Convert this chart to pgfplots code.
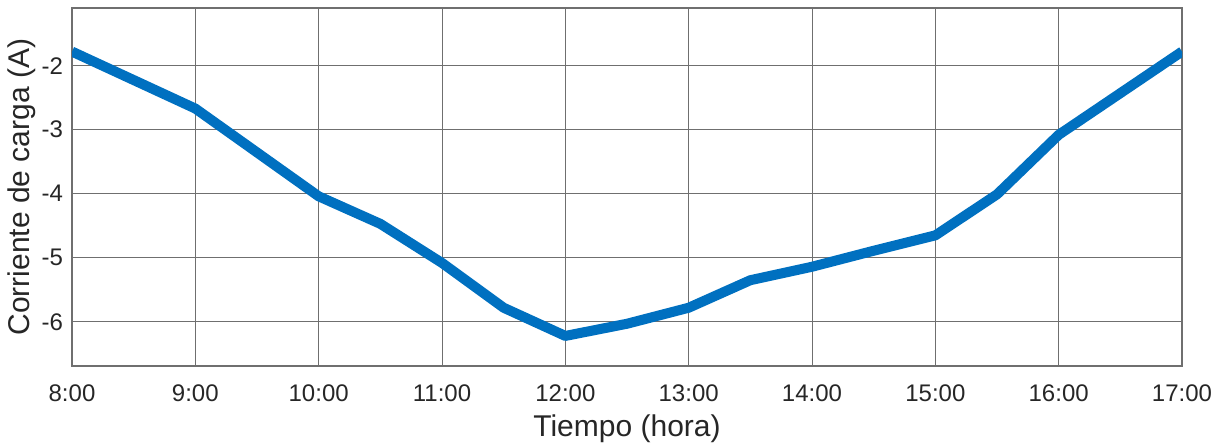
\documentclass[border=0pt]{standalone}
\usepackage{pgfplots}
\pgfplotsset{compat=1.18}
\usepackage{fontspec}
\setmainfont{Liberation Sans}
\definecolor{lineblue}{HTML}{0070C0}
\definecolor{gridgray}{HTML}{6F6F6F}
\begin{document}
\begin{tikzpicture}
\begin{axis}[
  name=ax,
  scale only axis,
  width=555pt, height=179pt,
  xmin=8, xmax=17, ymin=-6.69, ymax=-1.1,
  xtick={8,...,17},
  xticklabels={8:00,9:00,10:00,11:00,12:00,13:00,14:00,15:00,16:00,17:00},
  ytick={-6,-5,-4,-3,-2},
  yticklabels={-6,-5,-4,-3,-2},
  major tick length=0pt,
  grid=major,
  major grid style={gridgray, line width=0.5pt},
  axis line style={gridgray, line width=0.6pt},
  tick label style={font=\fontsize{12}{14}\selectfont, text=black!85},
  xticklabel style={yshift=-6pt},
  yticklabel style={xshift=-1pt},
  label style={font=\fontsize{15}{18}\selectfont, text=black!85},
  xlabel={Tiempo (hora)},
  ylabel={Corriente de carga (A)},
  xlabel style={yshift=0.5pt},
  ylabel style={yshift=-4pt},
]
\addplot[lineblue, line width=5pt, line join=round] coordinates {
(8,-1.78) (9,-2.67) (10,-4.04) (10.5,-4.47) (11,-5.08) (11.5,-5.78)
(12,-6.22) (12.5,-6.03) (13,-5.78) (13.5,-5.35) (14,-5.14) (14.5,-4.89)
(15,-4.65) (15.5,-4.01) (16,-3.08) (16.5,-2.43) (17,-1.78)
};
\end{axis}
\pgfresetboundingbox
\path[use as bounding box] ([shift={(-36pt,-38.5pt)}]ax.south west) rectangle ([shift={(20.5pt,4pt)}]ax.north east);
\end{tikzpicture}
\end{document}
